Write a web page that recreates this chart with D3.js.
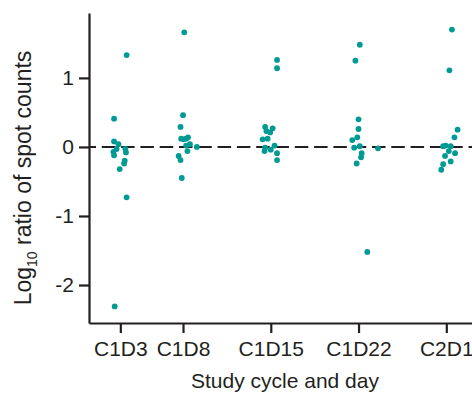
<!DOCTYPE html>
<html lang="en">
<head>
<meta charset="utf-8">
<title>Spot count ratios</title>
<script src="https://cdnjs.cloudflare.com/ajax/libs/d3/7.8.5/d3.min.js"></script>
<style type="text/css">
	body { margin: 0; background: #fff; }
	svg text { font-family: "Liberation Sans", Arial, sans-serif; fill: #231f20; }
	.axis path, .axis line { stroke: #231f20; stroke-width: 2.2px; }
</style>
</head>
<body>
<div id="chart"></div>
<script type="text/javascript">
	//study visits and the day of study they fall on
	var categories = ["C1D3", "C1D8", "C1D15", "C1D22", "C2D1"];
	var visitDays = [3, 8, 15, 22, 29];
	var yTicks = [-2, -1, 0, 1];

	//log10 ratio per patient, with the horizontal jitter (in days)
	var c1d3Values = [1.33, 0.41, 0.08, 0.04, -0.03, -0.07, -0.12, -0.03, -0.08, -0.20, -0.24, -0.32, -0.73, -2.31];
	var c1d3Jitter = [0.5, -0.5, -0.5, -0.15, -0.3, -0.55, -0.5, 0.4, 0.45, 0.35, 0.3, -0.05, 0.5, -0.45];
	var c1d8Values = [1.66, 0.46, 0.29, 0.12, 0.11, 0.12, 0.14, 0.04, 0.02, 0.00, -0.06, -0.13, -0.19, -0.45];
	var c1d8Jitter = [0.1, 0.0, -0.2, -0.15, 0.05, 0.25, 0.4, 0.55, 0.25, 1.1, 0.35, -0.35, -0.2, -0.1];
	var c1d15Values = [1.26, 1.14, 0.29, 0.27, 0.23, 0.21, 0.11, 0.12, 0.02, -0.01, -0.04, -0.06, -0.09, -0.19];
	var c1d15Jitter = [0.5, 0.5, -0.45, 0.15, -0.35, -0.05, -0.65, -0.25, 0.3, -0.45, 0.0, -0.5, 0.5, 0.5];
	var c1d22Values = [1.48, 1.25, 0.40, 0.26, 0.14, 0.10, -0.01, 0.01, -0.09, -0.15, -0.24, -0.02, -1.52];
	var c1d22Jitter = [0.1, -0.25, 0.0, 0.0, -0.1, -0.5, -0.35, 0.1, 0.25, 0.2, -0.15, 1.55, 0.7];
	var c2d1Values = [1.70, 1.11, 0.25, 0.14, 0.01, 0.02, 0.01, -0.06, -0.09, -0.13, -0.21, -0.25, -0.33];
	var c2d1Jitter = [0.45, 0.25, 0.9, 0.65, -0.25, -0.05, 0.35, 0.2, 0.7, -0.1, 0.35, -0.25, -0.4];

	var allValues = [c1d3Values, c1d8Values, c1d15Values, c1d22Values, c2d1Values];
	var allJitter = [c1d3Jitter, c1d8Jitter, c1d15Jitter, c1d22Jitter, c2d1Jitter];

	//flatten into one list of points
	var points = [];
	allValues.forEach(function(vals, i){
		vals.forEach(function(v, j){
			points.push({ day: visitDays[i] + allJitter[i][j], value: v });
		});
	});

	var width = 472;
	var height = 395;

	var svg = d3.select("#chart")
		.append("svg")
		.attr("width", width)
		.attr("height", height);

	//x is a linear day scale, y is the log ratio
	var x = d3.scaleLinear()
		.domain([0.5, 31.05])
		.range([89, 472]);

	var y = d3.scaleLinear()
		.domain([-2.55, 1.94])
		.range([323, 13]);

	//reference line at zero
	svg.append("line")
		.attr("x1", x.range()[0])
		.attr("x2", x.range()[1])
		.attr("y1", y(0))
		.attr("y2", y(0))
		.style("stroke", "#231f20")
		.style("stroke-width", 2)
		.style("stroke-dasharray", "13.5,5.8")
		.style("stroke-dashoffset", 6.5);

	//axes
	var xAxis = d3.axisBottom(x)
		.tickValues(visitDays)
		.tickFormat(function(d, i){ return categories[i]; })
		.tickSize(10)
		.tickSizeOuter(0)
		.tickPadding(8);

	//plain hyphen for negatives, like the original
	var yAxis = d3.axisLeft(y)
		.tickValues(yTicks)
		.tickFormat(function(d){ return String(d); })
		.tickSize(10)
		.tickSizeOuter(0)
		.tickPadding(5);

	svg.append("g")
		.attr("class", "axis")
		.attr("transform", "translate(0," + y.range()[0] + ")")
		.call(xAxis)
		.selectAll("text")
		.style("font-size", "21px");

	svg.append("g")
		.attr("class", "axis")
		.attr("transform", "translate(" + x.range()[0] + ",0)")
		.call(yAxis)
		.selectAll("text")
		.style("font-size", "21px");

	svg.selectAll(".axis text").style("fill", "#231f20");

	//the dots
	svg.selectAll(".dot")
		.data(points)
		.enter().append("circle")
		.attr("class", "dot")
		.attr("cx", function(d){ return x(d.day); })
		.attr("cy", function(d){ return y(d.value); })
		.attr("r", 2.9)
		.style("fill", "#009a94");

	//axis titles
	svg.append("text")
		.attr("x", 285)
		.attr("y", 388)
		.attr("text-anchor", "middle")
		.style("font-size", "21px")
		.text("Study cycle and day");

	var ylab = svg.append("text")
		.attr("transform", "translate(31,178) rotate(-90)")
		.attr("text-anchor", "middle")
		.style("font-size", "23px");
	ylab.append("tspan").text("Log");
	ylab.append("tspan").attr("dy", 6).style("font-size", "14px").text("10");
	ylab.append("tspan").attr("dy", -6).text(" ratio of spot counts");
</script>
</body>
</html>
